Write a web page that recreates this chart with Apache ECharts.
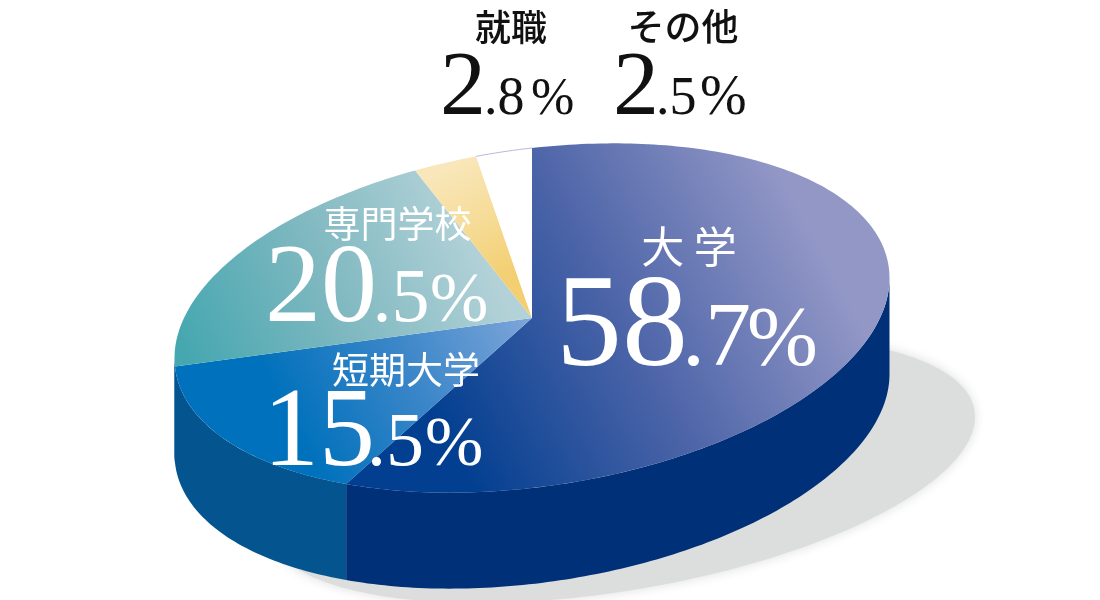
<!DOCTYPE html>
<html><head><meta charset="utf-8">
<style>html,body{margin:0;padding:0;background:#fff}#c{width:1100px;height:600px}</style>
<script src="https://cdn.jsdelivr.net/npm/echarts@6/dist/echarts.min.js"></script>
</head><body><div id="c"></div>
<script>
const categories = ['大 学', '短期大学', '専門学校', '就職', 'その他'];
const shareValues = [58.7, 15.5, 20.5, 2.8, 2.5];

// geometry of the tilted ellipse: conjugate half-axes
const C = [532, 318], U = [0, -170], V = [357.5, -40], DEPTH = 96;
const SHADOW = { c: [620, 470], u: [0, 122], v: [355, -53] };
const SERIF = '"Liberation Serif","Times New Roman",serif', CJK = '"Noto Sans CJK JP",sans-serif';
const topFill = [
  { from: [440, 430], to: [810, 230], stops: ['#023f90', '#4c64a8', '#9297c6'] },
  { from: [300, 440], to: [525, 320], stops: ['#0071bc', '#3a86c8', '#7ba4d9'] },
  { from: [190, 370], to: [480, 240], stops: ['#45a7b0', '#7fb8c0', '#b3d2d8'] },
  { from: [500, 280], to: [440, 170], stops: ['#f3cf72', '#f6dc98', '#f9e7bb'] },
  { from: [0, 0], to: [0, 1], stops: ['#ffffff', '#ffffff', '#ffffff'] }
];
const wallFill = ['#003077', '#04558f', '#04558f', '#04558f', '#04558f'];
const labelLayout = [
  { title: [689, 247, 43], whole: [556, 132], dot: [682, 92], pct: [747, 85], base: 364.5 },
  { title: [406, 370, 37], whole: [263, 112], dot: [367, 76], pct: [425, 70], base: 465 },
  { title: [397.5, 224, 37], whole: [265, 112], dot: [372.5, 76], pct: [430, 70], base: 321 },
  { title: [511, 27, 36], whole: [440, 92], dot: [484, 54], pct: [531, 52], base: 113.5, dark: true },
  { title: [683, 27, 37], whole: [613, 92], dot: [656, 54], pct: [700, 56], base: 113.5, dark: true }
];

const total = shareValues.reduce((a, b) => a + b, 0);
const bounds = [0];
shareValues.forEach(v => bounds.push(bounds[bounds.length - 1] + v / total * 360));
const P = (deg, dy) => {
  const t = deg * Math.PI / 180, c = Math.cos(t), s = Math.sin(t);
  return [C[0] + U[0] * c + V[0] * s, C[1] + U[1] * c + V[1] * s + (dy || 0)];
};
const arc = (a, b, dy) => {
  const pts = [], n = Math.max(2, Math.ceil(Math.abs(b - a)));
  for (let i = 0; i <= n; i++) pts.push(P(a + (b - a) * i / n, dy));
  return pts;
};
const G = echarts.graphic.LinearGradient;

const shadowItem = () => {
  const pts = [];
  for (let d = 0; d < 360; d += 2) {
    const t = d * Math.PI / 180, c = Math.cos(t), s = Math.sin(t);
    pts.push([SHADOW.c[0] + SHADOW.u[0] * c + SHADOW.v[0] * s, SHADOW.c[1] + SHADOW.u[1] * c + SHADOW.v[1] * s]);
  }
  return { type: 'polygon', shape: { points: pts }, style: { fill: '#dcdedd', shadowBlur: 12, shadowColor: '#dcdedd' } };
};
const wallItem = (params) => {
  const i = params.dataIndex;
  const a = Math.max(bounds[i], 90), b = Math.min(i === 1 ? 270 : bounds[i + 1], 270);
  if (b <= a) return { type: 'group', children: [] };
  return { type: 'polygon', shape: { points: arc(a, b, 0).concat(arc(b, a, DEPTH)) }, style: { fill: wallFill[i] } };
};
const topItem = (params) => {
  const i = params.dataIndex, f = topFill[i];
  const pts = [C].concat(arc(bounds[i], bounds[i + 1], 0));
  return {
    type: 'group', children: [
      { type: 'polygon', shape: { points: pts }, style: { fill: new G(f.from[0], f.from[1], f.to[0], f.to[1], [{ offset: 0, color: f.stops[0] }, { offset: 0.5, color: f.stops[1] }, { offset: 1, color: f.stops[2] }], true) } },
      i === 4 ? { type: 'polyline', shape: { points: arc(bounds[i], bounds[i + 1], 0) }, style: { stroke: '#b9b9dc', lineWidth: 1, fill: null } } : { type: 'group', children: [] }
    ]
  };
};
const frag = (text, x, baseline, size, color) => ({
  type: 'text', x: x, y: baseline - 0.26 * size,
  style: { text: text, fontFamily: SERIF, fontSize: size, fill: color, align: 'left', verticalAlign: 'middle' }
});
const labelItem = (params) => {
  const i = params.dataIndex, L = labelLayout[i], col = L.dark ? '#111' : '#fff';
  const parts = shareValues[i].toFixed(1).split('.');
  return {
    type: 'group', children: [
      { type: 'text', x: L.title[0], y: L.title[1], style: { text: categories[i], fontFamily: CJK, fontSize: L.title[2], fontWeight: L.dark ? 500 : 400, fill: col, align: 'center', verticalAlign: 'middle' } },
      frag(parts[0], L.whole[0], L.base, L.whole[1], col),
      frag('.' + parts[1], L.dot[0], L.base, L.dot[1], col),
      frag('%', L.pct[0], L.base, L.pct[1], col)
    ]
  };
};
const rows = shareValues.map(v => [v]);
const chart = echarts.init(document.getElementById('c'), null, { renderer: 'canvas' });
chart.setOption({
  animation: false, backgroundColor: '#fff',
  series: [
    { type: 'custom', coordinateSystem: 'none', silent: true, z: 1, data: [[total]], renderItem: shadowItem },
    { type: 'custom', coordinateSystem: 'none', silent: true, z: 2, data: rows, renderItem: wallItem },
    { type: 'custom', coordinateSystem: 'none', silent: true, z: 3, data: rows, renderItem: topItem },
    { type: 'custom', coordinateSystem: 'none', silent: true, z: 4, data: rows, renderItem: labelItem }
  ]
});
</script></body></html>
